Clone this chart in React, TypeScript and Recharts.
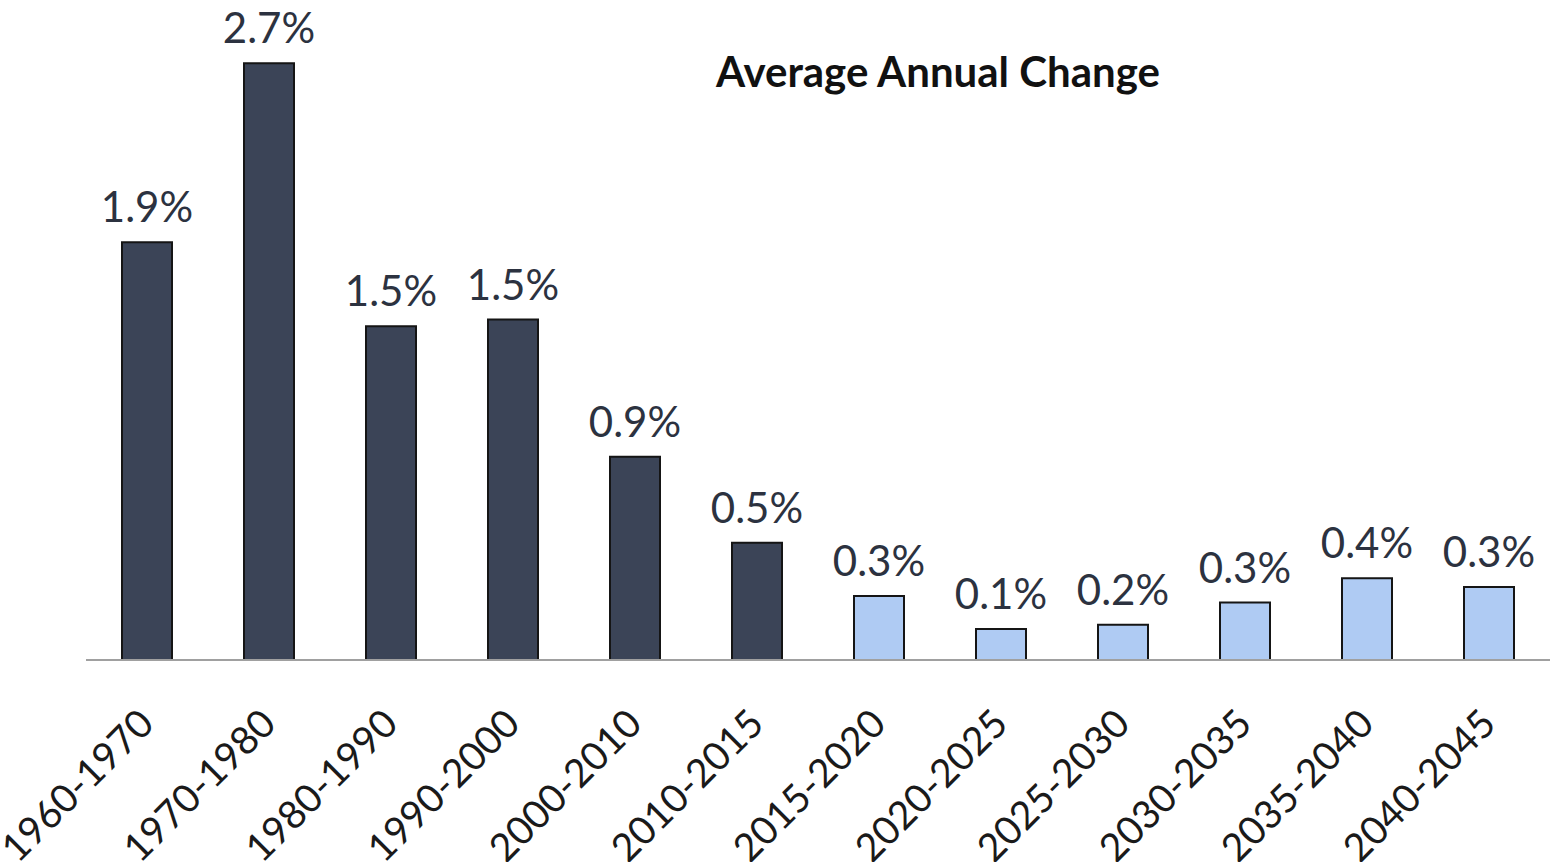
import React from "react";
import { BarChart, Bar, XAxis, YAxis, Cell, LabelList } from "recharts";

const PERIODS = [
  "1960-1970", "1970-1980", "1980-1990", "1990-2000", "2000-2010", "2010-2015",
  "2015-2020", "2020-2025", "2025-2030", "2030-2035", "2035-2040", "2040-2045",
];
const CHANGE = [1.89, 2.7, 1.51, 1.54, 0.92, 0.53, 0.29, 0.14, 0.16, 0.26, 0.37, 0.33];
const KIND = [
  "actual", "actual", "actual", "actual", "actual", "actual",
  "projected", "projected", "projected", "projected", "projected", "projected",
];

const FILLS: Record<string, string> = { actual: "#3b4457", projected: "#afcbf3" };
const FONT = "Lato, 'Open Sans', sans-serif";

const data = PERIODS.map((p, i) => ({ period: p, change: CHANGE[i], kind: KIND[i] }));

const PeriodTick = (props: any) => {
  const { x, payload } = props;
  return (
    <g transform={`translate(${x + 9},726)`}>
      <text
        transform="rotate(-45)"
        textAnchor="end"
        fontFamily={FONT}
        fontSize={39}
        fill="#1a1a1a"
      >
        {payload.value}
      </text>
    </g>
  );
};

const App: React.FC = () => {
  return (
    <div style={{ position: "absolute", left: 0, top: 0, width: 1550, height: 862, background: "#fff" }}>
      <div
        style={{
          position: "absolute",
          left: 938,
          top: 46,
          transform: "translateX(-50%)",
          fontFamily: FONT,
          fontWeight: 700,
          fontSize: 42,
          color: "#111",
          whiteSpace: "nowrap",
        }}
      >
        Average Annual Change
      </div>
      <BarChart
        width={1550}
        height={862}
        data={data}
        margin={{ top: 19, right: 0, bottom: 0, left: 86 }}
        barSize={50}
      >
        <XAxis
          dataKey="period"
          height={202}
          interval={0}
          tickLine={false}
          axisLine={{ stroke: "#a0a0a0", strokeWidth: 2 }}
          tick={<PeriodTick />}
        />
        <YAxis hide domain={[0, 2.9]} />
        <Bar dataKey="change" stroke="#151515" strokeWidth={2} isAnimationActive={false}>
          {data.map((d) => (
            <Cell key={d.period} fill={FILLS[d.kind]} />
          ))}
          <LabelList
            dataKey="change"
            position="top"
            offset={20}
            formatter={(v: any) => `${Number(v).toFixed(1)}%`}
            style={{ fontFamily: FONT, fontSize: 42, fill: "#2c3240" }}
          />
        </Bar>
      </BarChart>
    </div>
  );
};

export default App;
